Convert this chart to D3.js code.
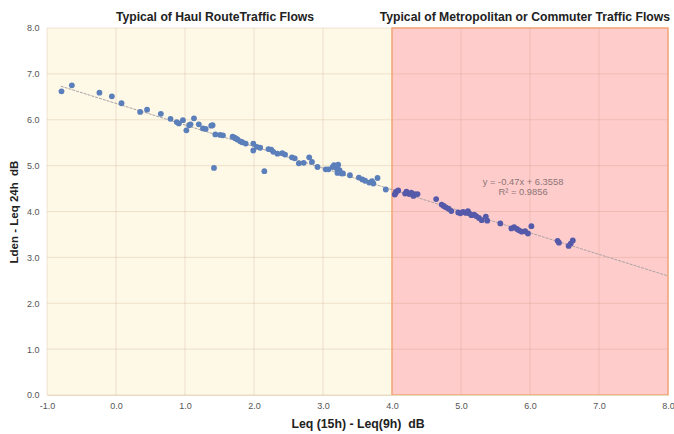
<!DOCTYPE html>
<html>
<head>
<meta charset="utf-8">
<script src="https://cdn.jsdelivr.net/npm/d3@7"></script>
<style>
  body { margin: 0; background: #fff; }
  text { font-family: "Liberation Sans", Arial, sans-serif; }
</style>
</head>
<body>
<div id="chart"></div>
<script>
// measured points (Leq15h - Leq9h, Lden - Leq24h)
const xVals = [-0.79,-0.64,-0.24,-0.06,0.08,0.35,0.45,0.65,0.79,0.88,0.91,0.97,1.02,1.06,1.08,1.13,1.20,1.26,1.30,1.38,1.40,1.42,1.44,1.51,1.55,1.69,1.72,1.74,1.76,1.80,1.83,1.88,1.99,1.99,2.04,2.09,2.15,2.21,2.25,2.28,2.34,2.41,2.45,2.55,2.59,2.65,2.72,2.80,2.84,2.92,3.04,3.08,3.14,3.16,3.20,3.22,3.24,3.21,3.27,3.29,3.39,3.52,3.57,3.61,3.67,3.71,3.73,3.79,3.91,
  4.04,4.05,4.06,4.09,4.19,4.21,4.25,4.28,4.31,4.33,4.37,4.64,4.72,4.75,4.78,4.82,4.86,4.96,4.99,5.03,5.07,5.10,5.12,5.15,5.19,5.22,5.26,5.30,5.36,5.38,5.57,5.73,5.77,5.81,5.84,5.88,5.93,5.97,6.02,6.40,6.42,6.56,6.59,6.62];
const yVals = [6.62,6.75,6.59,6.51,6.36,6.17,6.22,6.13,6.02,5.95,5.92,5.99,5.77,5.88,5.90,6.03,5.90,5.81,5.80,5.87,5.88,4.95,5.68,5.67,5.66,5.63,5.61,5.59,5.57,5.53,5.51,5.48,5.48,5.33,5.41,5.39,4.88,5.36,5.35,5.30,5.26,5.27,5.24,5.18,5.16,5.05,5.06,5.18,5.08,4.97,4.92,4.92,4.97,5.01,4.94,5.02,4.90,4.84,4.83,4.83,4.79,4.74,4.70,4.67,4.63,4.66,4.61,4.73,4.48,
  4.37,4.40,4.43,4.46,4.39,4.43,4.38,4.41,4.34,4.38,4.38,4.27,4.15,4.12,4.09,4.06,4.01,3.98,3.96,3.99,3.97,4.01,3.96,3.92,3.93,3.90,3.86,3.81,3.89,3.80,3.74,3.63,3.66,3.62,3.59,3.56,3.57,3.52,3.68,3.36,3.32,3.25,3.30,3.37];

const xTicks = [-1,0,1,2,3,4,5,6,7,8];
const yTicks = [0,1,2,3,4,5,6,7,8];
const slope = -0.47, intercept = 6.3558, rSquared = 0.9856;
const trendRange = [-0.8, 8];
const metroStart = 4; // boundary between the two zones
const zoneTitles = ["Typical of Haul RouteTraffic Flows", "Typical of Metropolitan or Commuter Traffic Flows"];

const width = 674, height = 434;
const margins = {top: 28, right: 6, bottom: 39, left: 47};

const svg = d3.select("#chart").append("svg")
    .attr("width", width).attr("height", height);

const xScale = d3.scaleLinear().domain([-1, 8]).range([margins.left, width - margins.right]);
const yScale = d3.scaleLinear().domain([0, 8]).range([height - margins.bottom, margins.top]);

// zone backgrounds
svg.append("rect")
    .attr("x", xScale(-1)).attr("y", yScale(8))
    .attr("width", xScale(metroStart) - xScale(-1))
    .attr("height", yScale(0) - yScale(8))
    .attr("fill", "#fef8e7");

svg.append("rect")
    .attr("x", xScale(metroStart)).attr("y", yScale(8))
    .attr("width", xScale(8) - xScale(metroStart))
    .attr("height", yScale(0) - yScale(8))
    .attr("fill", "#ffcccc");

// gridlines, semi transparent so they show on both zones
const grid = svg.append("g");
grid.selectAll(".gx").data(xTicks).enter().append("line")
    .attr("x1", d => xScale(d)).attr("x2", d => xScale(d))
    .attr("y1", yScale(0)).attr("y2", yScale(8))
    .attr("stroke", "rgb(160,110,60)").attr("stroke-opacity", 0.17);
grid.selectAll(".gy").data(yTicks).enter().append("line")
    .attr("x1", xScale(-1)).attr("x2", xScale(8))
    .attr("y1", d => yScale(d)).attr("y2", d => yScale(d))
    .attr("stroke", "rgb(160,110,60)").attr("stroke-opacity", 0.17);

// pink zone border
svg.append("rect")
    .attr("x", xScale(metroStart)).attr("y", yScale(8))
    .attr("width", xScale(8) - xScale(metroStart))
    .attr("height", yScale(0) - yScale(8))
    .attr("fill", "none")
    .attr("stroke", "#f5a679").attr("stroke-width", 1.5);

// trend line
svg.append("line")
    .attr("x1", xScale(trendRange[0])).attr("y1", yScale(slope * trendRange[0] + intercept))
    .attr("x2", xScale(trendRange[1])).attr("y2", yScale(slope * trendRange[1] + intercept))
    .attr("stroke", "#a9a3a3").attr("stroke-width", 1)
    .attr("stroke-dasharray", "3,1");

// points
const pts = d3.zip(xVals, yVals);
svg.append("g").selectAll("circle")
    .data(pts).enter().append("circle")
    .attr("cx", d => xScale(d[0]))
    .attr("cy", d => yScale(d[1]))
    .attr("r", 2.9)
    .attr("fill", d => d[0] >= metroStart ? "#5559a9" : "#5b7fba");

// equation
svg.append("text")
    .attr("x", xScale(5.9)).attr("y", yScale(4.58))
    .attr("text-anchor", "middle").style("font-size", "9.4px").attr("fill", "#8c7575")
    .text(`y = ${slope}x + ${intercept}`);
svg.append("text")
    .attr("x", xScale(5.9)).attr("y", yScale(4.37))
    .attr("text-anchor", "middle").style("font-size", "9.4px").attr("fill", "#8c7575")
    .text(`R² = ${rSquared}`);

// axes
const fmt = d => d.toFixed(1);
const xAxis = d3.axisBottom(xScale).tickValues(xTicks).tickFormat(fmt).tickSize(0);
const yAxis = d3.axisLeft(yScale).tickValues(yTicks).tickFormat(fmt).tickSize(0);

const xGroup = svg.append("g")
    .attr("transform", `translate(0, ${height - margins.bottom})`)
    .call(xAxis);
xGroup.select(".domain").attr("stroke", "#e6dcc0");
xGroup.selectAll("text").attr("dy", "1.2em").style("font-size", "9px").attr("fill", "#555");

const yGroup = svg.append("g")
    .attr("transform", `translate(${margins.left}, 0)`)
    .call(yAxis);
yGroup.select(".domain").remove();
yGroup.selectAll("text").attr("dx", "-0.5em").style("font-size", "9px").attr("fill", "#555");

// titles
svg.append("text")
    .attr("x", 215).attr("y", 21)
    .attr("text-anchor", "middle")
    .style("font-size", "12.2px").style("font-weight", "bold").attr("fill", "#222")
    .text(zoneTitles[0]);
svg.append("text")
    .attr("x", 670).attr("y", 21)
    .attr("text-anchor", "end")
    .style("font-size", "12.2px").style("font-weight", "bold").attr("fill", "#222")
    .text(zoneTitles[1]);

svg.append("text")
    .attr("x", 358).attr("y", 428)
    .attr("text-anchor", "middle")
    .style("font-size", "12.3px").style("font-weight", "bold").attr("fill", "#222")
    .attr("xml:space", "preserve")
    .text("Leq (15h) - Leq(9h)  dB");

svg.append("text")
    .attr("transform", "translate(18, 212) rotate(-90)")
    .attr("text-anchor", "middle")
    .style("font-size", "11.5px").style("font-weight", "bold").attr("fill", "#222")
    .attr("xml:space", "preserve")
    .text("Lden - Leq 24h  dB");
</script>
</body>
</html>
